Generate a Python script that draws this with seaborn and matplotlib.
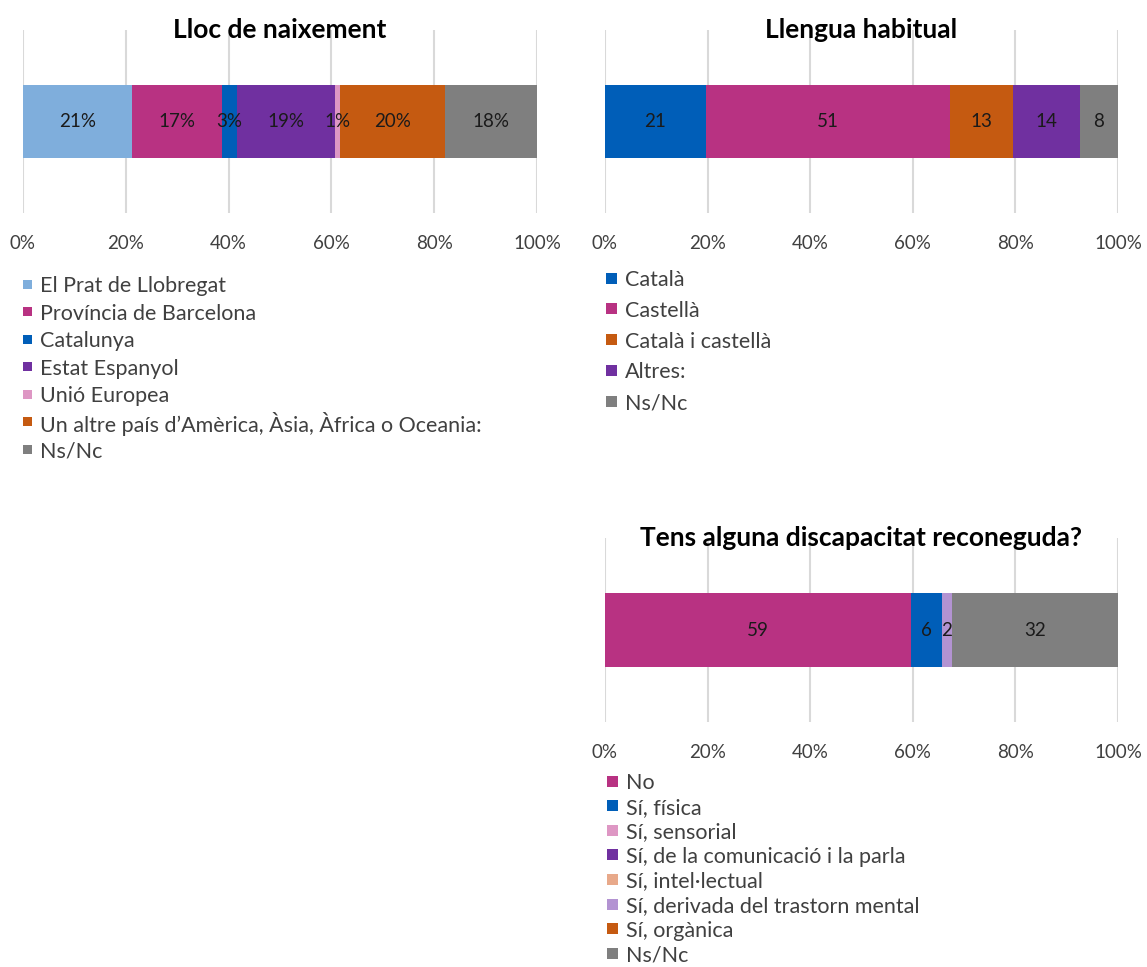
import matplotlib
matplotlib.use("Agg")
import numpy as np
import pandas as pd
import matplotlib.pyplot as plt
from matplotlib.patches import Rectangle
import seaborn as sns

# DADES
lloc_cat = ["El Prat de Llobregat", "Província de Barcelona", "Catalunya", "Estat Espanyol",
            "Unió Europea", "Un altre país d\u2019Amèrica, Àsia, Àfrica o Oceania:", "Ns/Nc"]
lloc_val = [21.3, 17.4, 2.9, 19.2, 0.9, 20.4, 18.0]
lloc_col = ["#7FAEDC", "#B83282", "#005EB8", "#7030A0", "#DE97C4", "#C55A11", "#7F7F7F"]

llengua_cat = ["Català", "Castellà", "Català i castellà", "Altres:", "Ns/Nc"]
llengua_val = [21, 51, 13, 14, 8]
llengua_col = ["#005EB8", "#B83282", "#C55A11", "#7030A0", "#7F7F7F"]

disc_cat = ["No", "Sí, física", "Sí, sensorial", "Sí, de la comunicació i la parla",
            "Sí, intel·lectual", "Sí, derivada del trastorn mental", "Sí, orgànica", "Ns/Nc"]
disc_val = [59, 6, 0, 0, 0, 2, 0, 32]
disc_col = ["#B83282", "#005EB8", "#DE97C4", "#7030A0", "#E8A98A", "#B393D2", "#C55A11", "#7F7F7F"]

ticks = [0, 20, 40, 60, 80, 100]
tick_labels = ["0%", "20%", "40%", "60%", "80%", "100%"]

sns.set_theme(style="white")
plt.rcParams["font.family"] = ["Lato", "DejaVu Sans"]

W, H = 1147, 967
fig = plt.figure(figsize=(W / 100, H / 100), dpi=100)


def fig_ax(x0, y0, x1, y1):
    return fig.add_axes([x0 / W, 1 - y1 / H, (x1 - x0) / W, (y1 - y0) / H])


def barra_apilada(ax, cats, vals, cols, titol, fmt):
    vals = np.array(vals, dtype=float)
    pct = vals / vals.sum() * 100
    cum = np.cumsum(pct)
    # barres acumulades de la mes llarga a la mes curta
    for i in range(len(cats) - 1, -1, -1):
        if vals[i] == 0:
            continue
        df = pd.DataFrame({"valor": [cum[i]], "grup": [""]})
        sns.barplot(data=df, x="valor", y="grup", orient="h", color=cols[i],
                    saturation=1, width=0.4, linewidth=0, ax=ax)
    for i in range(len(cats)):
        if vals[i] == 0:
            continue
        ax.text(cum[i] - pct[i] / 2, 0, fmt(vals[i]), ha="center", va="center",
                fontsize=13.5, color="#1a1a1a")
    ax.set_xlim(0, 100)
    ax.set_ylim(0.5, -0.5)
    ax.set_xticks(ticks)
    ax.set_xticklabels(tick_labels, fontsize=13.5, color="#404040")
    ax.set_yticks([])
    ax.set_xlabel("")
    ax.set_ylabel("")
    ax.tick_params(axis="x", length=0, pad=16)
    ax.grid(axis="x", color="#D9D9D9", linewidth=1.5)
    ax.set_axisbelow(True)
    for s in ax.spines.values():
        s.set_visible(False)
    ax.text(0.5, 1.0, titol, transform=ax.transAxes, ha="center", va="center",
            fontsize=19, fontweight="bold", color="#000000")


ax1 = fig_ax(23, 30, 537, 213)
barra_apilada(ax1, lloc_cat, lloc_val, lloc_col, "Lloc de naixement", lambda v: f"{v:.0f}%")

ax2 = fig_ax(605, 30, 1118, 213)
barra_apilada(ax2, llengua_cat, llengua_val, llengua_col, "Llengua habitual", lambda v: f"{v:.0f}")

ax3 = fig_ax(605, 538, 1118, 722)
barra_apilada(ax3, disc_cat, disc_val, disc_col, "Tens alguna discapacitat reconeguda?", lambda v: f"{v:.0f}")


# LLEGENDES (files amb espaiat fix, com a Excel)
def llegenda(cats, cols, x, y0, pas, costat=10):
    for i, (c, col) in enumerate(zip(cats, cols)):
        y = y0 + pas * i
        fig.patches.append(Rectangle((x / W, 1 - (y + costat / 2) / H), costat / W, costat / H,
                                     transform=fig.transFigure, facecolor=col, edgecolor="none"))
        fig.text((x + costat + 8) / W, 1 - y / H, c, ha="left", va="center_baseline",
                 fontsize=15.5, color="#404040")


llegenda(lloc_cat, lloc_col, 23, 284, 27.5, 9)
llegenda(llengua_cat, llengua_col, 606, 278, 30.8, 11)
llegenda(disc_cat, disc_col, 607, 781, 24.6, 11)

fig.savefig("out.png", dpi=100)
